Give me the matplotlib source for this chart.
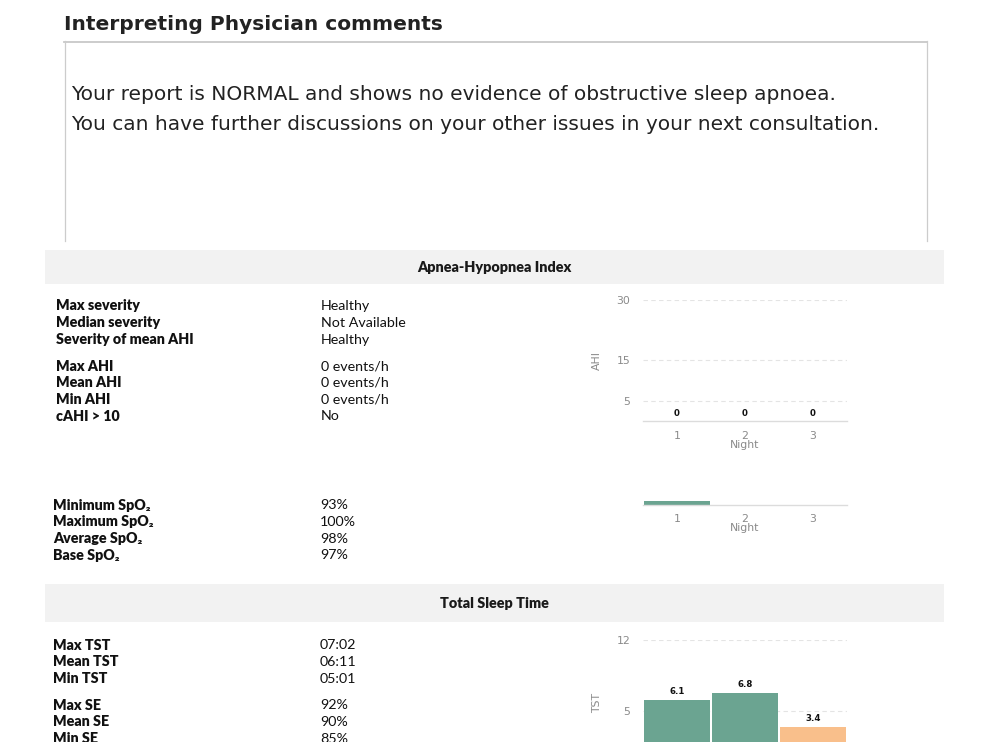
import matplotlib
matplotlib.use("Agg")
import matplotlib.pyplot as plt
from matplotlib.patches import Rectangle
from matplotlib.lines import Line2D

# ---------------- data ----------------
title = "Interpreting Physician comments"
comment_lines = [
    "Your report is NORMAL and shows no evidence of obstructive sleep apnoea.",
    "You can have further discussions on your other issues in your next consultation.",
]

ahi_header = "Apnea-Hypopnea Index"
ahi_labels_a = ["Max severity", "Median severity", "Severity of mean AHI"]
ahi_values_a = ["Healthy", "Not Available", "Healthy"]
ahi_labels_b = ["Max AHI", "Mean AHI", "Min AHI", "cAHI > 10"]
ahi_values_b = ["0 events/h", "0 events/h", "0 events/h", "No"]

spo2_labels = ["Minimum SpO\u2082", "Maximum SpO\u2082", "Average SpO\u2082", "Base SpO\u2082"]
spo2_values = ["93%", "100%", "98%", "97%"]

tst_header = "Total Sleep Time"
tst_labels_a = ["Max TST", "Mean TST", "Min TST"]
tst_values_a = ["07:02", "06:11", "05:01"]
tst_labels_b = ["Max SE", "Mean SE", "Min SE"]
tst_values_b = ["92%", "90%", "85%"]

nights = ["1", "2", "3"]
ahi_per_night = [0, 0, 0]
ahi_ticks = [5, 15, 30]
spo2_chart_per_night = [0.8, 0.0, 0.0]
tst_per_night = [6.1, 6.8, 3.4]
tst_ticks = [5, 12]
tst_low_threshold = 5

# ---------------- layout helpers ----------------
W, H = 990, 742
fig = plt.figure(figsize=(W / 100, H / 100), dpi=100)
fig.patch.set_facecolor("white")


def fx(x):
    return x / W


def fy(y):
    return 1 - y / H


GREEN = "#6ba491"
PEACH = "#f9bf8b"
BAND = "#f2f2f2"
LATO = ["Lato", "DejaVu Sans"]
DJV = ["DejaVu Sans"]
TICK = "#8a8a8a"

# ---------------- title + comment box ----------------
fig.text(fx(64), fy(25), title, fontsize=14.5, fontweight="bold", family=DJV,
         color="#222222", va="center", ha="left")
box_col = "#cccccc"
fig.add_artist(Line2D([fx(64), fx(927)], [fy(41.5), fy(41.5)], color="#c8c8c8", lw=1.3,
                      transform=fig.transFigure))
fig.add_artist(Line2D([fx(64.5), fx(64.5)], [fy(41), fy(241)], color=box_col, lw=0.9,
                      transform=fig.transFigure))
fig.add_artist(Line2D([fx(926.5), fx(926.5)], [fy(41), fy(241)], color=box_col, lw=0.9,
                      transform=fig.transFigure))
for i, line in enumerate(comment_lines):
    fig.text(fx(71), fy(94 + 31 * i), line, fontsize=14.5, family=DJV, color="#222222",
             va="center", ha="left")


# ---------------- section bands ----------------
def band(y0, y1, text):
    fig.add_artist(Rectangle((fx(45), fy(y1)), fx(944) - fx(45), fy(y0) - fy(y1),
                             transform=fig.transFigure, facecolor=BAND, edgecolor="none"))
    fig.text(fx(494.5), fy((y0 + y1) / 2), text, fontsize=10.4, fontweight="heavy",
             family=LATO, color="#1a1a1a", ha="center", va="center")


band(250, 284, ahi_header)
band(584, 622, tst_header)


def rows(x_lab, x_val, y_start, labels, values, step=16.8):
    for i, (lab, val) in enumerate(zip(labels, values)):
        y = fy(y_start + step * i)
        fig.text(fx(x_lab), y, lab, fontsize=10.3, fontweight="heavy", family=LATO,
                 color="#111111", va="center", ha="left")
        fig.text(fx(x_val), y, val, fontsize=10.3, family=LATO, color="#111111",
                 va="center", ha="left")


rows(56, 321, 306, ahi_labels_a, ahi_values_a)
rows(56, 321, 366, ahi_labels_b, ahi_values_b)
rows(53, 320, 505, spo2_labels, spo2_values)
rows(53, 320, 645, tst_labels_a, tst_values_a)
rows(53, 320, 705, tst_labels_b, tst_values_b)


# ---------------- charts ----------------
def make_axes(top, bottom, left=643, right=847):
    ax = fig.add_axes([fx(left), fy(bottom), fx(right) - fx(left), fy(top) - fy(bottom)])
    ax.set_facecolor("none")
    for s in ["top", "right", "left"]:
        ax.spines[s].set_visible(False)
    ax.spines["bottom"].set_color("#dcdcdc")
    ax.spines["bottom"].set_linewidth(1.0)
    ax.tick_params(axis="both", length=0, labelsize=7.8, colors=TICK)
    ax.tick_params(axis="y", pad=9)
    ax.tick_params(axis="x", pad=7)
    ax.set_xlim(-0.5, 2.5)
    ax.set_axisbelow(True)
    return ax


def style_grid(ax):
    ax.yaxis.grid(True, linestyle=(0, (4, 3)), color="#e4e4e4", lw=0.8)


xs = list(range(len(nights)))

# AHI chart
ax1 = make_axes(300, 421)
b1 = ax1.bar(xs, ahi_per_night, width=0.96, color=GREEN)
ax1.set_ylim(0, 30)
ax1.set_yticks(ahi_ticks)
ax1.set_xticks(xs)
ax1.set_xticklabels(nights)
style_grid(ax1)
ax1.bar_label(b1, fmt="%d", padding=2, fontsize=6.2, fontweight="bold", color="#111111")
ax1.set_ylabel("AHI", fontsize=7.8, color=TICK)
ax1.yaxis.set_label_coords(-0.20, 0.5)
fig.text(fx(745), fy(445), "Night", fontsize=7.8, color=TICK, ha="center", va="center")

# SpO2 chart (cropped sliver)
ax2 = make_axes(499, 504.5)
ax2.bar(xs, spo2_chart_per_night, width=0.96, color=GREEN)
ax2.set_ylim(0, 1.1)
ax2.set_yticks([])
ax2.set_xticks(xs)
ax2.set_xticklabels(nights)
fig.text(fx(745), fy(528), "Night", fontsize=7.8, color=TICK, ha="center", va="center")

# TST chart (extends below figure edge; its x tick labels are off-page)
ax3 = make_axes(640, 762)
cols = [PEACH if v < tst_low_threshold else GREEN for v in tst_per_night]
b3 = ax3.bar(xs, tst_per_night, width=0.96, color=cols)
ax3.set_ylim(0, 12)
ax3.set_yticks(tst_ticks)
ax3.set_xticks(xs)
ax3.tick_params(axis="x", labelbottom=False)
style_grid(ax3)
ax3.bar_label(b3, fmt="%.1f", padding=3, fontsize=6.2, fontweight="bold", color="#111111")
ax3.set_ylabel("TST", fontsize=7.8, color=TICK)
ax3.yaxis.set_label_coords(-0.20, 0.48)

fig.savefig("out.png", dpi=100, facecolor="white")
